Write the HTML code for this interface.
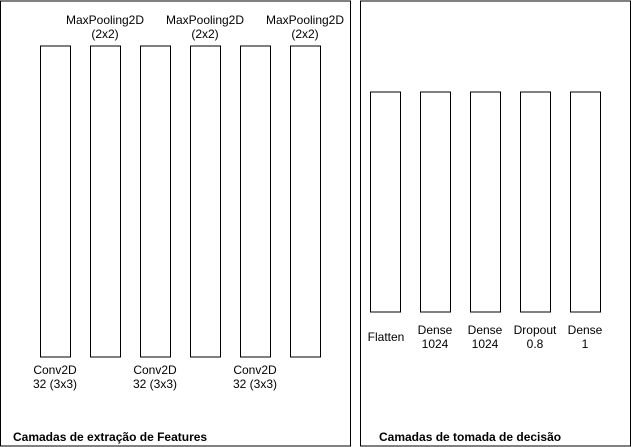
<!DOCTYPE html>
<html>
<head>
<meta charset="utf-8">
<style>
html,body{margin:0;padding:0;background:#fff;}
svg{display:block;}
text{font-family:"Liberation Sans",sans-serif;font-size:12px;fill:#000;}
.c{text-anchor:middle;}
.b{font-weight:bold;}
rect{fill:#fff;stroke:#000;stroke-width:1;}
</style>
</head>
<body>
<svg width="631" height="447" viewBox="0 0 631 447">
<rect x="0.5" y="1" width="350" height="445"/>
<rect x="360.5" y="1" width="270" height="445"/>

<rect x="40.5" y="46" width="30" height="311"/>
<rect x="90.5" y="46" width="30" height="311"/>
<rect x="140.5" y="46" width="30" height="311"/>
<rect x="190.5" y="46" width="30" height="311"/>
<rect x="240.5" y="46" width="30" height="311"/>
<rect x="290.5" y="46" width="30" height="311"/>

<rect x="370.5" y="92" width="30" height="220"/>
<rect x="420.5" y="92" width="30" height="220"/>
<rect x="470.5" y="92" width="30" height="220"/>
<rect x="520.5" y="92" width="30" height="220"/>
<rect x="570.5" y="92" width="30" height="220"/>

<text class="c" x="105" y="24">MaxPooling2D</text>
<text class="c" x="105" y="38">(2x2)</text>
<text class="c" x="205" y="24">MaxPooling2D</text>
<text class="c" x="205" y="38">(2x2)</text>
<text class="c" x="305" y="24">MaxPooling2D</text>
<text class="c" x="305" y="38">(2x2)</text>

<text class="c" x="55" y="374">Conv2D</text>
<text class="c" x="55" y="388">32 (3x3)</text>
<text class="c" x="155" y="374">Conv2D</text>
<text class="c" x="155" y="388">32 (3x3)</text>
<text class="c" x="255" y="374">Conv2D</text>
<text class="c" x="255" y="388">32 (3x3)</text>

<text class="c" x="386" y="341">Flatten</text>
<text class="c" x="435" y="334">Dense</text>
<text class="c" x="435" y="348">1024</text>
<text class="c" x="485" y="334">Dense</text>
<text class="c" x="485" y="348">1024</text>
<text class="c" x="535" y="334">Dropout</text>
<text class="c" x="535" y="348">0.8</text>
<text class="c" x="585" y="334">Dense</text>
<text class="c" x="585" y="348">1</text>

<text class="b" x="13" y="441">Camadas de extração de Features</text>
<text class="b" x="379" y="441">Camadas de tomada de decisão</text>
</svg>
</body>
</html>
